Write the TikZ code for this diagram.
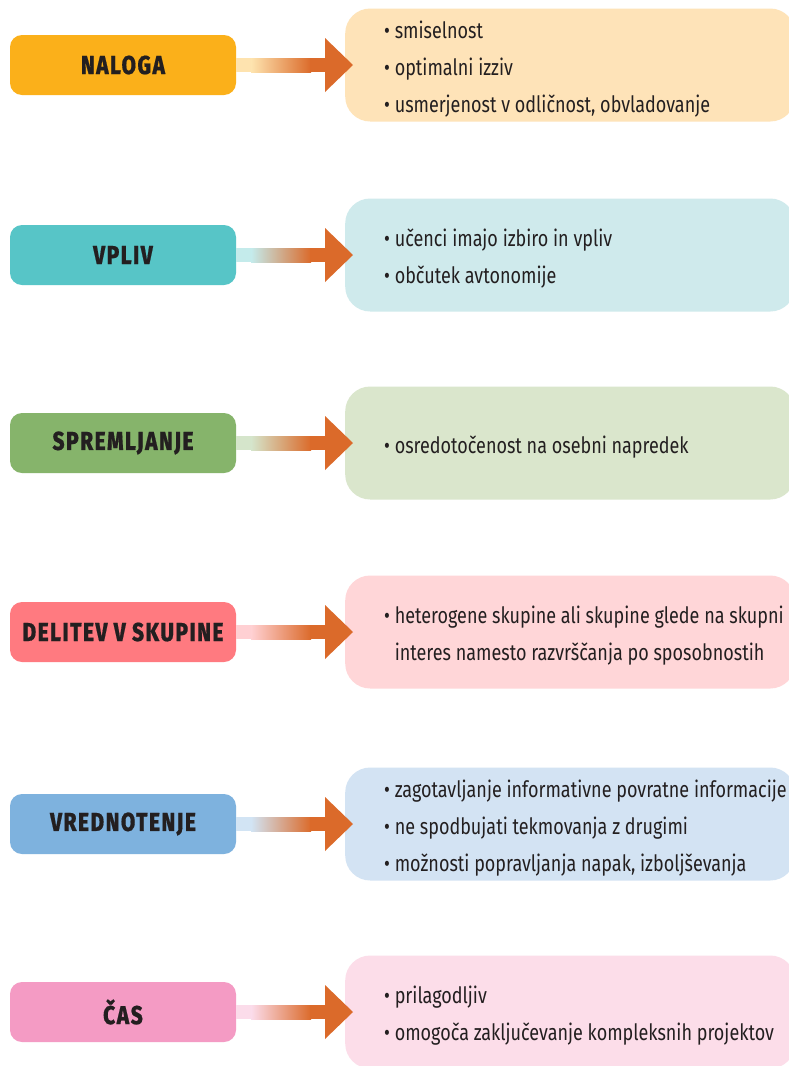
\documentclass[tikz,border=0pt]{standalone}
\usepackage{fontspec}
\setmainfont{Fira Sans}[FakeStretch=0.8]
\newfontfamily\labelfont{Fira Sans}[FakeStretch=0.8,LetterSpace=6,
  BoldFont={Fira Sans ExtraBold},BoldFeatures={FakeBold=0.5}]
\usetikzlibrary{calc}

\definecolor{ink}{HTML}{231F20}
\definecolor{arrowc}{HTML}{DB6A2A}
\definecolor{cA}{HTML}{FBB01A}\definecolor{bA}{HTML}{FEE3B8}
\definecolor{cB}{HTML}{57C5C7}\definecolor{bB}{HTML}{CFEAEC}
\definecolor{cC}{HTML}{86B46B}\definecolor{bC}{HTML}{DAE6CC}
\definecolor{cD}{HTML}{FF7A80}\definecolor{bD}{HTML}{FFD6D8}
\definecolor{cE}{HTML}{7EB2DE}\definecolor{bE}{HTML}{D3E3F3}
\definecolor{cF}{HTML}{F49BC4}\definecolor{bF}{HTML}{FCDDE9}

\newcommand\bul{\textbullet\ }
\newcommand\bulgap{\hphantom{\textbullet\ }}

% one row: label box, info box, info text and the shaded arrow between them
\newcommand\inforow[4]{%
  \node[lbl, fill=c#1] (L#1) at (123,#2) {#3};
  \node[infobox, fill=b#1] (R#1) at (345,#2) {};
  \node[infotext] (T#1) at (384,#2+4) {#4};
  \coordinate (H#1) at ($(R#1.west)+(8,0)$);
  \fill[c#1!35] ($(L#1.east)+(0,-7)$) rectangle ($(L#1.east)+(16,7)$);
  \shade[left color=c#1!35, right color=arrowc]
    ($(L#1.east)+(15,-7)$) rectangle ($(L#1.east)+(75,7)$);
  \fill[arrowc] ($(L#1.east)+(74,-7)$) rectangle ($(L#1.east)+(90,7)$);
  \fill[arrowc] ($(H#1)+(-28,-27)$) -- (H#1) -- ($(H#1)+(-28,27)$) -- cycle;
}

\begin{document}
\begin{tikzpicture}[x=1pt,y=-1pt,
  lbl/.style={rounded corners=12pt, minimum width=226pt, minimum height=60pt,
    inner sep=0pt, text=ink, font=\labelfont\bfseries\fontsize{26}{26}\selectfont},
  infobox/.style={rounded corners=25pt, minimum width=450pt, minimum height=113pt,
    anchor=west, inner sep=0pt},
  infotext/.style={anchor=west, align=left, inner sep=0pt, text=ink,
    font=\fontsize{22.5}{37}\selectfont}]
\useasboundingbox[fill=white] (0,0) rectangle (788,1066);

\inforow{A}{65}{NALOGA}{\bul smiselnost\\ \bul optimalni izziv\\ \bul usmerjenost v odličnost, obvladovanje}
\inforow{B}{255}{VPLIV}{\bul učenci imajo izbiro in vpliv\\ \bul občutek avtonomije}
\inforow{C}{443}{SPREMLJANJE}{\bul osredotočenost na osebni napredek}
\inforow{D}{632}{DELITEV V SKUPINE}{\bul heterogene skupine ali skupine glede na skupni\\ \bulgap interes namesto razvrščanja po sposobnostih}
\inforow{E}{824}{VREDNOTENJE}{\bul zagotavljanje informativne povratne informacije\\ \bul ne spodbujati tekmovanja z drugimi\\ \bul možnosti popravljanja napak, izboljševanja}
\inforow{F}{1012}{ČAS}{\bul prilagodljiv\\ \bul omogoča zaključevanje kompleksnih projektov}
\end{tikzpicture}
\end{document}
